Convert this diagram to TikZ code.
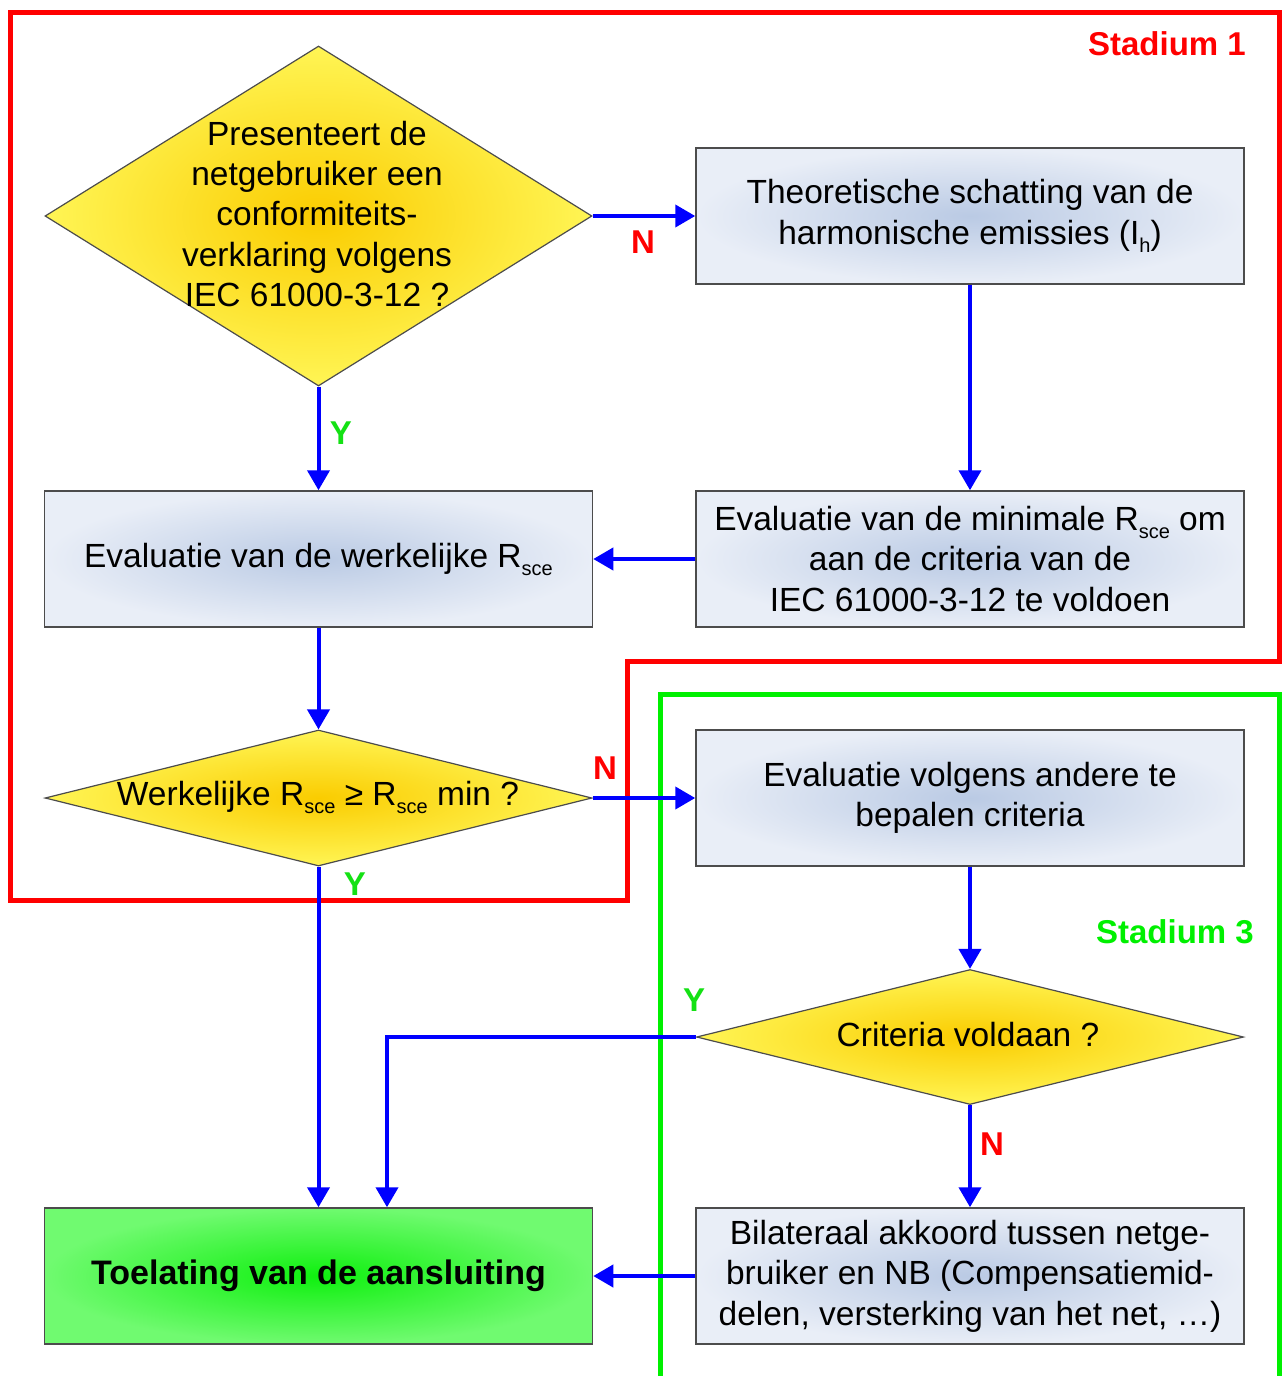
\documentclass[tikz,border=0pt]{standalone}
\usepackage{fontspec}
\setmainfont{Liberation Sans}
\usetikzlibrary{shapes.geometric,arrows.meta}
\definecolor{boxin}{RGB}{186,202,228}
\definecolor{boxout}{RGB}{233,238,247}
\definecolor{yin}{RGB}{250,204,0}
\definecolor{yout}{RGB}{255,245,85}
\definecolor{gin}{RGB}{15,240,15}
\definecolor{gout}{RGB}{112,250,112}
\definecolor{fblue}{RGB}{0,0,255}
\definecolor{fred}{RGB}{255,0,0}
\definecolor{fgreen}{RGB}{0,240,0}
\definecolor{lgreen}{RGB}{20,225,20}
\newcommand\subs[1]{\raisebox{-0.45ex}{\fontsize{20}{20}\selectfont #1}}
\begin{document}
\begin{tikzpicture}[x=1pt,y=-1pt,
  procbox/.style={rectangle, draw=black!70, line width=1.5pt, shading=radial,
    inner color=boxin, outer color=boxout, minimum width=548pt, minimum height=136pt,
    inner sep=0pt, align=center, font=\fontsize{33.5}{40.5}\selectfont},
  okbox/.style={procbox, inner color=gin, outer color=gout},
  decision/.style={diamond, draw=black!70, line width=1.2pt, shading=radial,
    inner color=yin, outer color=yout, inner sep=0pt, minimum width=547pt},
  dtext/.style={align=center, inner sep=0pt, font=\fontsize{33.5}{40.3}\selectfont},
  flow/.style={draw=fblue, line width=4pt, -{Triangle[length=20pt,width=22pt]}},
  lab/.style={font=\bfseries\fontsize{33}{33}\selectfont, inner sep=0pt},
  frame/.style={line width=5pt}
]
\useasboundingbox (0,0) rectangle (1285,1376);
\fill[white] (0,0) rectangle (1285,1376);

% stage frames
\draw[frame, draw=fred] (10,12) -- (1279,12) -- (1279,661) -- (627,661) -- (627,900) -- (10,900) -- cycle;
\draw[frame, draw=fgreen] (660,1380) -- (660,694) -- (1279,694) -- (1279,1380);
\node[lab, text=fred, anchor=east] (st1) at (1246,44) {Stadium 1};
\node[lab, text=fgreen, anchor=east] (st3) at (1254,932) {Stadium 3};

% nodes
\node[decision, minimum height=340pt] (d1) at (318.5,216) {};
\node[dtext] (d1t) at (317,214) {Presenteert de\\netgebruiker een\\conformiteits-\\verklaring volgens\\IEC 61000-3-12 ?};
\node[procbox] (ba) at (970,216) {Theoretische schatting van de\\harmonische emissies (I\subs{h})};
\node[procbox] (bb) at (970,559) {Evaluatie van de minimale R\subs{sce} om\\aan de criteria van de\\IEC 61000-3-12 te voldoen};
\node[procbox] (bc) at (318.5,559) {Evaluatie van de werkelijke R\subs{sce}};
\node[decision, minimum height=136pt] (d2) at (318.5,798) {};
\node[dtext] (d2t) at (318,797) {Werkelijke R\subs{sce} ≥ R\subs{sce} min ?};
\node[procbox] (bd) at (970,798) {Evaluatie volgens andere te\\bepalen criteria};
\node[decision, minimum height=135pt] (d3) at (970,1037) {};
\node[dtext] (d3t) at (968,1035) {Criteria voldaan ?};
\node[procbox] (be) at (970,1276) {Bilateraal akkoord tussen netge-\\bruiker en NB (Compensatiemid-\\delen, versterking van het net, …)};
\node[okbox, font=\bfseries\fontsize{34}{40}\selectfont] (bf) at (318.5,1276) {Toelating van de aansluiting};

% connectors
\draw[flow] (d1.east) -- (ba.west);
\draw[flow] (d1.south) -- (bc.north);
\draw[flow] (ba.south) -- (bb.north);
\draw[flow] (bb.west) -- (bc.east);
\draw[flow] (bc.south) -- (d2.north);
\draw[flow] (d2.east) -- (bd.west);
\draw[flow] (d2.south) -- (d2.south |- bf.north);
\draw[flow] (bd.south) -- (d3.north);
\coordinate (bend) at (387,1037);
\draw[flow] (d3.west) -- (bend) -- (bend |- bf.north);
\draw[flow] (d3.south) -- (be.north);
\draw[flow] (be.west) -- (bf.east);

% branch labels
\node[lab, text=fred] (n1) at (643,242) {N};
\node[lab, text=lgreen] (y1) at (341,433) {Y};
\node[lab, text=fred] (n2) at (605,768) {N};
\node[lab, text=lgreen] (y2) at (355,884) {Y};
\node[lab, text=lgreen] (y3) at (694,1000) {Y};
\node[lab, text=fred] (n3) at (992,1144) {N};
\end{tikzpicture}
\end{document}
